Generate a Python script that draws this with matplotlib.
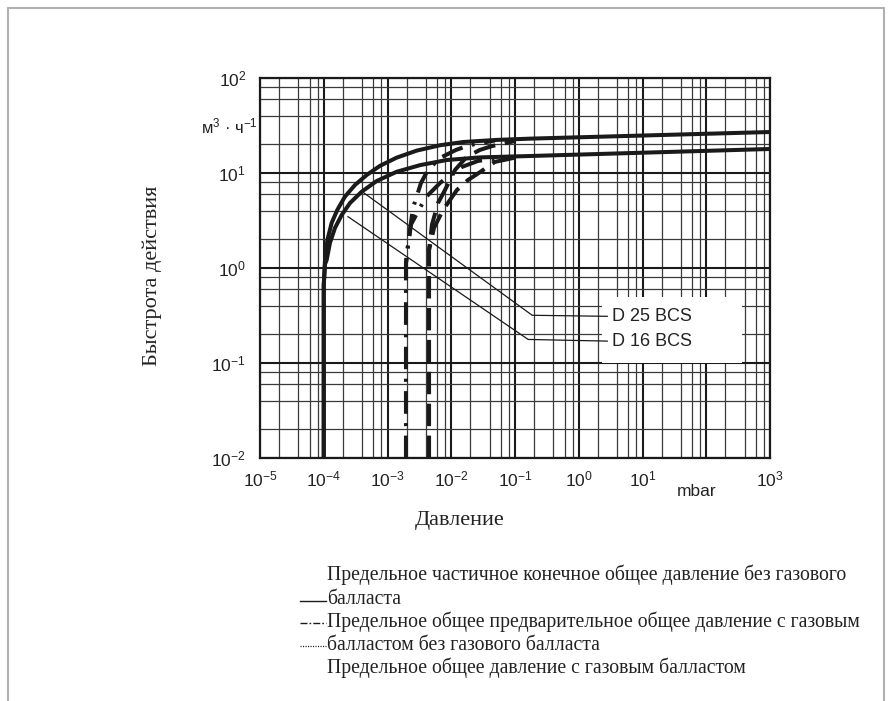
import matplotlib
matplotlib.use("Agg")
import matplotlib.pyplot as plt
from matplotlib.ticker import FixedLocator, NullFormatter
from matplotlib.patches import Rectangle

plt.rcParams['font.family'] = ['Liberation Sans', 'DejaVu Sans']
plt.rcParams['mathtext.fontset'] = 'custom'
plt.rcParams['mathtext.rm'] = 'Liberation Sans'
plt.rcParams['mathtext.it'] = 'Liberation Sans:italic'
plt.rcParams['mathtext.bf'] = 'Liberation Sans:bold'
plt.rcParams['lines.scale_dashes'] = False

# ---- data (pressure in mbar, pumping speed in m3/h) ----
d25_solid_p = [1.0e-4, 1.0e-4, 1.047e-4, 1.14e-4, 1.33e-4, 1.63e-4, 2.15e-4, 3.09e-4, 4.72e-4, 7.63e-4,
               1.39e-3, 2.87e-3, 6.67e-3, 1.55e-2, 5.16e-2, 0.174, 1e3]
d25_solid_s = [0.01, 0.66, 1.21, 1.97, 2.98, 4.08, 5.64, 7.48, 9.53, 11.9,
               14.5, 17.2, 19.6, 21.2, 22.3, 23.0, 27.0]

d16_solid_p = [1.0e-4, 1.0e-4, 1.047e-4, 1.11e-4, 1.25e-4, 1.5e-4, 1.91e-4, 2.58e-4, 3.94e-4, 6.78e-4,
               1.39e-3, 3.24e-3, 8.5e-3, 2.82e-2, 0.174, 1e3]
d16_solid_s = [0.01, 0.66, 1.1, 1.21, 1.83, 2.64, 3.61, 4.83, 6.36, 8.24,
               10.3, 12.1, 13.7, 14.6, 15.1, 17.9]

d25_dashdot_p = [1.95e-3, 1.95e-3, 2.25e-3, 2.51e-3, 3.35e-3, 4.32e-3, 6.67e-3, 1.19e-2, 1.97e-2, 4.85e-2]
d25_dashdot_s = [0.01, 1.13, 2.51, 4.28, 7.85, 10.8, 14.4, 17.5, 19.7, 22.0]

d16_dashdot_p = [1.95e-3, 1.95e-3, 2.1e-3, 2.34e-3, 3.0e-3, 4.02e-3, 6.67e-3, 9.55e-3, 1.48e-2, 2.63e-2, 5.82e-2]
d16_dashdot_s = [0.01, 1.13, 1.77, 2.87, 3.93, 5.58, 7.85, 9.53, 11.6, 13.4, 14.4]

d25_dashed_p = [4.48e-3, 4.48e-3, 4.99e-3, 6.2e-3, 7.98e-3, 1.15e-2, 1.77e-2, 2.82e-2, 4.35e-2, 0.1]
d25_dashed_s = [0.01, 1.55, 2.87, 4.83, 6.63, 10.8, 14.9, 17.5, 19.2, 21.7]

d16_dashed_p = [4.48e-3, 4.48e-3, 5.36e-3, 7.43e-3, 9.55e-3, 1.23e-2, 1.83e-2, 2.82e-2, 4.85e-2, 0.12]
d16_dashed_s = [0.01, 1.55, 2.64, 4.08, 5.2, 6.63, 8.43, 10.2, 13.1, 14.9]

leader_d25_p = [4.0e-4, 0.186, 2.8]
leader_d25_s = [6.37, 0.318, 0.31]
leader_d16_p = [2.4e-4, 0.161, 2.8]
leader_d16_s = [3.47, 0.177, 0.17]

series_labels = ["D 25 BCS", "D 16 BCS"]

x_ticks = [1e-5, 1e-4, 1e-3, 1e-2, 1e-1, 1e0, 1e1, 1e2, 1e3]
x_ticklabels = [r'$\mathrm{10^{-5}}$', r'$\mathrm{10^{-4}}$', r'$\mathrm{10^{-3}}$', r'$\mathrm{10^{-2}}$',
                r'$\mathrm{10^{-1}}$', r'$\mathrm{10^{0}}$', r'$\mathrm{10^{1}}$', '', r'$\mathrm{10^{3}}$']
x_unit = "mbar"
y_ticks = [1e-2, 1e-1, 1e0, 1e1, 1e2]
y_ticklabels = [r'$\mathrm{10^{-2}}$', r'$\mathrm{10^{-1}}$', r'$\mathrm{10^{0}}$', r'$\mathrm{10^{1}}$', r'$\mathrm{10^{2}}$']

x_label = "Давление"
y_label = "Быстрота действия"
unit_label = r'м$^\mathrm{3}$ · ч$^\mathrm{-1}$'

legend_lines = [
    "Предельное частичное конечное общее давление без газового",
    "балласта",
    "Предельное общее предварительное общее давление с газовым",
    "балластом без газового балласта",
    "Предельное общее давление с газовым балластом",
]

# ---- figure ----
W, H = 892, 701
fig = plt.figure(figsize=(W / 100, H / 100), dpi=100)
ax = fig.add_axes([260 / W, 1 - 458 / H, 510 / W, 380 / H])
ax.set_xscale('log')
ax.set_yscale('log')
ax.set_xlim(1e-5, 1e3)
ax.set_ylim(1e-2, 1e2)

minor_x = [m * 10.0 ** e for e in range(-5, 3) for m in (2, 4, 6, 8)]
minor_y = [m * 10.0 ** e for e in range(-2, 2) for m in (2, 4, 6, 8)]
ax.xaxis.set_major_locator(FixedLocator(x_ticks))
ax.yaxis.set_major_locator(FixedLocator(y_ticks))
ax.xaxis.set_minor_locator(FixedLocator(minor_x))
ax.yaxis.set_minor_locator(FixedLocator(minor_y))
ax.xaxis.set_minor_formatter(NullFormatter())
ax.yaxis.set_minor_formatter(NullFormatter())
ax.set_xticklabels(x_ticklabels)
ax.set_yticklabels(y_ticklabels)
ax.tick_params(which='both', length=0)
ax.tick_params(axis='x', labelsize=12.5, pad=8, colors='#222222')
ax.tick_params(axis='y', labelsize=12.5, pad=10, colors='#222222')

ax.grid(which='major', color='#1a1a1a', lw=1.5, zorder=0)
ax.grid(which='minor', color='#3a3a3a', lw=0.9, zorder=0)
ax.set_axisbelow(True)
for sp in ax.spines.values():
    sp.set_linewidth(1.6)
    sp.set_color('#1a1a1a')

lc = '#1a1a1a'
lw = 2.9
ax.plot(d25_solid_p, d25_solid_s, color=lc, lw=lw, solid_capstyle='butt', solid_joinstyle='round', zorder=3)
ax.plot(d16_solid_p, d16_solid_s, color=lc, lw=lw, solid_capstyle='butt', solid_joinstyle='round', zorder=3)
dd = [16, 7, 2, 7]
ax.plot(d25_dashdot_p, d25_dashdot_s, color=lc, lw=lw, dashes=dd, zorder=3)
ax.plot(d16_dashdot_p, d16_dashdot_s, color=lc, lw=lw, dashes=dd, zorder=3)
dsh = [16, 7]
ax.plot(d25_dashed_p, d25_dashed_s, color=lc, lw=lw, dashes=dsh, zorder=3)
ax.plot(d16_dashed_p, d16_dashed_s, color=lc, lw=lw, dashes=dsh, zorder=3)

# label box and leaders
ax.add_patch(Rectangle((2.33, 0.1), 369 - 2.33, 0.49 - 0.1, facecolor='white', edgecolor='none', zorder=1))
ax.plot(leader_d25_p, leader_d25_s, color=lc, lw=0.9, zorder=4)
ax.plot(leader_d16_p, leader_d16_s, color=lc, lw=0.9, zorder=4)
ax.text(3.36, leader_d25_s[-1], series_labels[0], fontsize=13, va='center', ha='left', color='#222222', zorder=5)
ax.text(3.36, leader_d16_s[-1], series_labels[1], fontsize=13, va='center', ha='left', color='#222222', zorder=5)

# units
fig.text(258 / W, 1 - 126 / H, unit_label, fontsize=12, ha='right', va='center', color='#222222')
fig.text(697 / W, 1 - 491 / H, x_unit, fontsize=12.5, ha='center', va='center', color='#222222')

# axis labels (serif)
serif = ['Liberation Serif', 'DejaVu Serif']
fig.text(460 / W, 1 - 520 / H, x_label, family=serif, fontsize=16, ha='center', va='center', color='#222222')
fig.text(152 / W, 1 - 276 / H, y_label, family=serif, fontsize=16, ha='center', va='center',
         rotation=90, color='#222222')

# legend block
ys = [575, 600, 622, 645, 668]
for yy, t in zip(ys, legend_lines):
    fig.text(327 / W, 1 - yy / H, t, family=serif, fontsize=14.2, ha='left', va='center', color='#222222')
fig.add_artist(plt.Line2D([300 / W, 326 / W], [1 - 601 / H] * 2, color=lc, lw=1.0))
fig.add_artist(plt.Line2D([300 / W, 326 / W], [1 - 623 / H] * 2, color=lc, lw=1.0, dashes=[5, 1.5, 1.2, 1.5]))
fig.add_artist(plt.Line2D([300 / W, 326 / W], [1 - 646 / H] * 2, color=lc, lw=0.9, dashes=[0.8, 1.0]))

# outer frame
fig.add_artist(Rectangle((8 / W, -0.01), (884 - 8) / W, (1 - 8 / H) + 0.01, transform=fig.transFigure,
                         facecolor='none', edgecolor='#b0b0b0', lw=1.5))

fig.savefig('out.png', dpi=100)
